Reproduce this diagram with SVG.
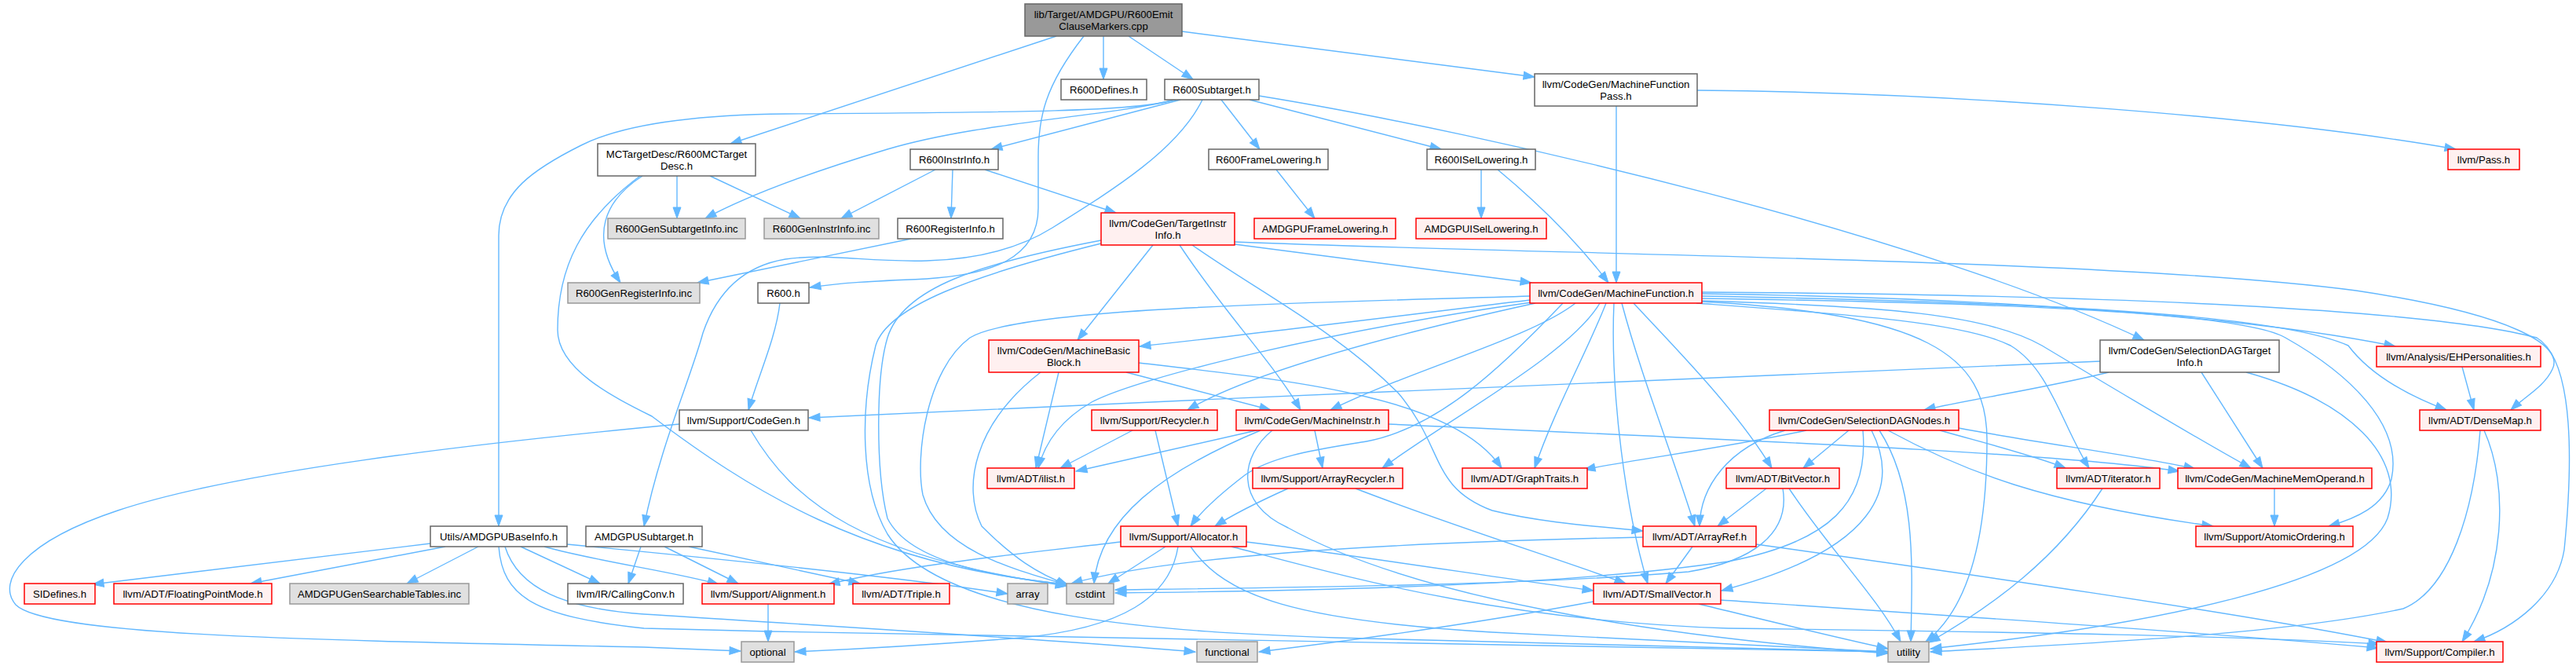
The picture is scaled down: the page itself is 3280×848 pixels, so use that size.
<svg xmlns="http://www.w3.org/2000/svg" width="3280" height="848" viewBox="0 0 3280 848">
<defs>
<style>
.e{fill:none;stroke:#63b8ff;stroke-width:1.4;marker-end:url(#a)}
rect.w{fill:#ffffff;stroke:#666666;stroke-width:1.5}
rect.r{fill:#fff0f0;stroke:#ff0000;stroke-width:1.5}
rect.g{fill:#e0e0e0;stroke:#999999;stroke-width:1.5}
rect.m{fill:#999999;stroke:#666666;stroke-width:1.5}
text{font-family:"Liberation Sans",Arial,Helvetica,sans-serif;font-size:13.2px;text-anchor:middle;fill:#000000}
</style>
<marker id="a" markerUnits="userSpaceOnUse" markerWidth="14" markerHeight="10" refX="14" refY="5" orient="auto" overflow="visible">
<path d="M0,0L14,5L0,10z" fill="#63b8ff" stroke="#63b8ff" stroke-width="1"/>
</marker>
</defs>
<rect x="0" y="0" width="3280" height="848" fill="#ffffff"/>
<g id="edges">
<path class="e" d="M1345,46 L930,183"/>
<path class="e" d="M1380,46 C1330,110 1322,150 1322,200 L1322,265 C1322,330 1260,350 1180,355 C1110,358 1070,360 1031,366"/>
<path class="e" d="M1405,46 L1405,101"/>
<path class="e" d="M1437,46 L1519,101"/>
<path class="e" d="M1505,40 L1954,98"/>
<path class="e" d="M1503,127 L1262,190"/>
<path class="e" d="M1497,127 C1400,150 1250,155 1130,190 C1030,220 950,250 898,278"/>
<path class="e" d="M1495,127 C1450,142 1300,143 1000,145 C900,146 800,155 740,185 C680,215 635,245 635,300 L635,670"/>
<path class="e" d="M1531,127 C1500,190 1420,240 1340,290 C1300,315 1250,330 1180,332 C1100,334 1060,322 1000,330 C940,340 910,380 895,424 C880,480 840,570 820,670"/>
<path class="e" d="M1555,127 L1604,190"/>
<path class="e" d="M1591,127 L1835,190"/>
<path class="e" d="M1603,122 C1900,170 2450,300 2730,433"/>
<path class="e" d="M862,224 L862,278"/>
<path class="e" d="M904,224 L1019,278"/>
<path class="e" d="M818,224 C770,255 750,300 790,360"/>
<path class="e" d="M815,224 C740,280 710,340 710,420 C710,470 780,505 830,530 C950,620 1100,720 1360,744"/>
<path class="e" d="M1191,216 L1071,278"/>
<path class="e" d="M1213,216 L1211,278"/>
<path class="e" d="M1254,216 L1421,271"/>
<path class="e" d="M1160,304 L888,360"/>
<path class="e" d="M1625,216 L1674,278"/>
<path class="e" d="M1886,216 L1886,278"/>
<path class="e" d="M1907,216 C1960,260 2010,310 2048,360"/>
<path class="e" d="M2058,135 L2058,360"/>
<path class="e" d="M2161,115 C2500,118 2900,150 3127,190"/>
<path class="e" d="M993,386 C988,430 965,480 953,522"/>
<path class="e" d="M1572,311 L1950,360"/>
<path class="e" d="M1572,308 C2000,325 2700,330 3000,370 C3200,400 3265,440 3250,470 C3240,492 3215,505 3197,522"/>
<path class="e" d="M1468,312 L1372,433"/>
<path class="e" d="M1502,312 C1560,400 1620,460 1656,522"/>
<path class="e" d="M1518,312 C1600,370 1700,420 1780,500 C1840,570 1820,620 1900,650 C1960,665 2030,670 2092,676"/>
<path class="e" d="M1402,306 C1250,335 1150,365 1130,430 C1115,480 1115,600 1130,660 C1160,720 1280,735 1362,745"/>
<path class="e" d="M1402,310 C1240,350 1130,390 1115,440 C1095,520 1095,620 1130,680 C1200,790 1500,805 1700,812 C1950,820 2200,826 2404,830"/>
<path class="e" d="M1948,382 C1800,400 1600,425 1451,441"/>
<path class="e" d="M1948,377 C1700,385 1300,390 1235,430 C1180,470 1165,580 1175,630 C1195,700 1290,725 1360,745"/>
<path class="e" d="M1950,385 C1700,420 1450,480 1390,512 C1350,535 1330,565 1322,596"/>
<path class="e" d="M1955,386 C1800,420 1600,470 1512,522"/>
<path class="e" d="M2006,386 C1950,430 1800,470 1694,522"/>
<path class="e" d="M2037,386 C2000,450 1850,530 1760,596"/>
<path class="e" d="M2045,386 C2020,450 1980,520 1954,596"/>
<path class="e" d="M2055,386 C2050,500 2070,650 2098,743"/>
<path class="e" d="M2065,386 C2090,480 2130,580 2158,670"/>
<path class="e" d="M2080,386 C2130,440 2210,520 2256,596"/>
<path class="e" d="M2160,386 C2350,400 2500,410 2560,440 C2610,470 2625,540 2660,596"/>
<path class="e" d="M2167,383 C2400,390 2530,400 2600,440 C2700,500 2800,560 2866,596"/>
<path class="e" d="M2167,380 C2500,385 2850,395 2910,430 C2990,475 3060,540 3045,610 C3035,645 3000,660 2965,670"/>
<path class="e" d="M2167,374 C2600,380 2900,410 3050,441"/>
<path class="e" d="M2167,377 C2600,385 2900,400 2990,440 C3020,480 3070,505 3115,522"/>
<path class="e" d="M2167,372 C2700,375 3100,395 3230,430 C3280,460 3275,600 3265,700 C3255,760 3200,800 3150,817"/>
<path class="e" d="M1990,386 C1910,470 1830,545 1740,562 C1680,572 1620,580 1585,605 C1555,628 1530,650 1516,670"/>
<path class="e" d="M2167,384 C2450,400 2530,450 2530,560 C2530,700 2500,780 2452,817"/>
<path class="e" d="M1434,474 L1618,522"/>
<path class="e" d="M1450,462 C1650,485 1850,505 1912,596"/>
<path class="e" d="M1348,474 L1319,596"/>
<path class="e" d="M1325,474 C1240,540 1225,620 1250,670 C1290,710 1320,730 1360,745"/>
<path class="e" d="M2674,460 C2300,475 1600,505 1030,532"/>
<path class="e" d="M2685,474 C2600,495 2500,510 2450,522"/>
<path class="e" d="M2803,474 L2881,596"/>
<path class="e" d="M2860,474 C2990,510 3065,580 3040,660 C3010,740 2750,795 2458,826"/>
<path class="e" d="M3135,467 L3150,522"/>
<path class="e" d="M3163,548 C3195,620 3190,730 3135,817"/>
<path class="e" d="M3158,548 C3150,650 3120,750 3060,775 C2900,810 2600,822 2458,830"/>
<path class="e" d="M2273,548 C2200,570 2165,620 2164,670"/>
<path class="e" d="M2300,548 C2200,570 2080,585 2017,598"/>
<path class="e" d="M2354,548 L2296,596"/>
<path class="e" d="M2372,548 C2380,640 2330,690 2200,715 C2000,745 1700,752 1420,755"/>
<path class="e" d="M2383,548 C2420,620 2390,700 2192,752"/>
<path class="e" d="M2393,548 C2440,620 2435,720 2433,817"/>
<path class="e" d="M2404,548 C2500,600 2600,640 2818,670"/>
<path class="e" d="M2470,548 C2530,565 2590,580 2630,596"/>
<path class="e" d="M2494,545 C2600,565 2720,580 2795,597"/>
<path class="e" d="M1600,548 L1370,600"/>
<path class="e" d="M1605,548 C1480,600 1400,660 1393,743"/>
<path class="e" d="M1674,548 L1684,596"/>
<path class="e" d="M1768,540 C2200,560 2600,575 2775,600"/>
<path class="e" d="M1620,548 C1580,580 1570,640 1640,672 C1800,760 2100,810 2404,832"/>
<path class="e" d="M1471,548 L1500,670"/>
<path class="e" d="M1442,548 L1350,596"/>
<path class="e" d="M1640,622 C1600,640 1570,655 1547,670"/>
<path class="e" d="M1726,622 C1850,670 1980,710 2070,743"/>
<path class="e" d="M2249,622 L2187,670"/>
<path class="e" d="M2270,622 C2280,680 2230,715 2150,728 C1950,745 1650,748 1420,751"/>
<path class="e" d="M2278,622 C2330,700 2390,760 2420,817"/>
<path class="e" d="M2677,622 C2620,710 2540,770 2456,818"/>
<path class="e" d="M2896,622 L2896,670"/>
<path class="e" d="M548,692 L118,744"/>
<path class="e" d="M567,696 L319,743"/>
<path class="e" d="M609,696 L518,743"/>
<path class="e" d="M663,696 L764,743"/>
<path class="e" d="M693,696 C760,715 860,728 915,744"/>
<path class="e" d="M722,693 C900,710 1150,735 1283,756"/>
<path class="e" d="M635,696 C640,760 680,785 820,800 C1400,815 2000,822 2404,830"/>
<path class="e" d="M643,696 C660,750 720,775 820,782 C1100,800 1350,815 1522,830"/>
<path class="e" d="M816,696 L800,743"/>
<path class="e" d="M846,696 L940,743"/>
<path class="e" d="M877,696 L1095,743"/>
<path class="e" d="M1427,690 C1300,705 1150,720 1055,744"/>
<path class="e" d="M1484,696 L1411,743"/>
<path class="e" d="M1500,696 C1490,760 1430,800 1300,812 C1200,820 1100,826 1012,830"/>
<path class="e" d="M1516,696 C1560,760 1650,790 1900,805 C2150,818 2300,824 2404,830"/>
<path class="e" d="M1587,690 C1750,710 1900,735 2029,752"/>
<path class="e" d="M1568,696 C1700,730 1900,790 2200,800 C2600,805 2850,810 3030,820"/>
<path class="e" d="M2092,684 C1800,690 1500,705 1364,743"/>
<path class="e" d="M2155,696 L2121,743"/>
<path class="e" d="M2236,693 C2500,730 2850,780 3040,818"/>
<path class="e" d="M2029,766 C1900,790 1750,812 1603,830"/>
<path class="e" d="M2163,769 C2250,790 2330,810 2404,826"/>
<path class="e" d="M2191,764 C2500,785 2800,805 3028,825"/>
<path class="e" d="M978,769 L978,817"/>
<path class="e" d="M865,540 C600,565 300,600 150,650 C30,690 -5,740 20,770 C60,810 400,815 820,824 L943,829"/>
<path class="e" d="M956,548 C1010,640 1100,710 1358,746"/>
</g>
<g id="n_main"><rect class="m" x="1305" y="5" width="200" height="41"/><text x="1405" y="22.5">lib/Target/AMDGPU/R600Emit</text><text x="1405" y="37.5">ClauseMarkers.cpp</text></g>
<g id="n_mctd"><rect class="w" x="761" y="183" width="201" height="41"/><text x="861.5" y="200.5">MCTargetDesc/R600MCTarget</text><text x="861.5" y="215.5">Desc.h</text></g>
<g id="n_defines"><rect class="w" x="1351" y="101" width="109" height="26"/><text x="1405.5" y="118.5">R600Defines.h</text></g>
<g id="n_subtarget"><rect class="w" x="1483" y="101" width="120" height="26"/><text x="1543" y="118.5">R600Subtarget.h</text></g>
<g id="n_mfp"><rect class="w" x="1954" y="94" width="207" height="41"/><text x="2057.5" y="111.5">llvm/CodeGen/MachineFunction</text><text x="2057.5" y="126.5">Pass.h</text></g>
<g id="n_instrinfo"><rect class="w" x="1159" y="190" width="112" height="26"/><text x="1215" y="207.5">R600InstrInfo.h</text></g>
<g id="n_framelow"><rect class="w" x="1539" y="190" width="152" height="26"/><text x="1615" y="207.5">R600FrameLowering.h</text></g>
<g id="n_isel"><rect class="w" x="1817" y="190" width="138" height="26"/><text x="1886" y="207.5">R600ISelLowering.h</text></g>
<g id="n_pass"><rect class="r" x="3117" y="190" width="91" height="26"/><text x="3162.5" y="207.5">llvm/Pass.h</text></g>
<g id="n_gensub"><rect class="g" x="774" y="278" width="175" height="26"/><text x="861.5" y="295.5">R600GenSubtargetInfo.inc</text></g>
<g id="n_geninstr"><rect class="g" x="973" y="278" width="146" height="26"/><text x="1046" y="295.5">R600GenInstrInfo.inc</text></g>
<g id="n_reginfo"><rect class="w" x="1143" y="278" width="134" height="26"/><text x="1210" y="295.5">R600RegisterInfo.h</text></g>
<g id="n_tii"><rect class="r" x="1402" y="271" width="170" height="41"/><text x="1487" y="288.5">llvm/CodeGen/TargetInstr</text><text x="1487" y="303.5">Info.h</text></g>
<g id="n_amdfl"><rect class="r" x="1597" y="278" width="180" height="26"/><text x="1687" y="295.5">AMDGPUFrameLowering.h</text></g>
<g id="n_amdisel"><rect class="r" x="1803" y="278" width="166" height="26"/><text x="1886" y="295.5">AMDGPUISelLowering.h</text></g>
<g id="n_genreg"><rect class="g" x="723" y="360" width="168" height="26"/><text x="807" y="377.5">R600GenRegisterInfo.inc</text></g>
<g id="n_r600"><rect class="w" x="965" y="360" width="65" height="26"/><text x="997.5" y="377.5">R600.h</text></g>
<g id="n_mf"><rect class="r" x="1948" y="360" width="219" height="26"/><text x="2057.5" y="377.5">llvm/CodeGen/MachineFunction.h</text></g>
<g id="n_mbb"><rect class="r" x="1259" y="433" width="191" height="41"/><text x="1354.5" y="450.5">llvm/CodeGen/MachineBasic</text><text x="1354.5" y="465.5">Block.h</text></g>
<g id="n_sdti"><rect class="w" x="2674" y="433" width="228" height="41"/><text x="2788" y="450.5">llvm/CodeGen/SelectionDAGTarget</text><text x="2788" y="465.5">Info.h</text></g>
<g id="n_ehp"><rect class="r" x="3026" y="441" width="209" height="26"/><text x="3130.5" y="458.5">llvm/Analysis/EHPersonalities.h</text></g>
<g id="n_codegen"><rect class="w" x="865" y="522" width="164" height="26"/><text x="947" y="539.5">llvm/Support/CodeGen.h</text></g>
<g id="n_recycler"><rect class="r" x="1390" y="522" width="160" height="26"/><text x="1470" y="539.5">llvm/Support/Recycler.h</text></g>
<g id="n_mi"><rect class="r" x="1574" y="522" width="194" height="26"/><text x="1671" y="539.5">llvm/CodeGen/MachineInstr.h</text></g>
<g id="n_sdn"><rect class="r" x="2253" y="522" width="241" height="26"/><text x="2373.5" y="539.5">llvm/CodeGen/SelectionDAGNodes.h</text></g>
<g id="n_densemap"><rect class="r" x="3081" y="522" width="154" height="26"/><text x="3158" y="539.5">llvm/ADT/DenseMap.h</text></g>
<g id="n_ilist"><rect class="r" x="1257" y="596" width="111" height="26"/><text x="1312.5" y="613.5">llvm/ADT/ilist.h</text></g>
<g id="n_arrayrec"><rect class="r" x="1595" y="596" width="191" height="26"/><text x="1690.5" y="613.5">llvm/Support/ArrayRecycler.h</text></g>
<g id="n_graphtraits"><rect class="r" x="1862" y="596" width="159" height="26"/><text x="1941.5" y="613.5">llvm/ADT/GraphTraits.h</text></g>
<g id="n_bitvector"><rect class="r" x="2198" y="596" width="144" height="26"/><text x="2270" y="613.5">llvm/ADT/BitVector.h</text></g>
<g id="n_iterator"><rect class="r" x="2619" y="596" width="131" height="26"/><text x="2684.5" y="613.5">llvm/ADT/iterator.h</text></g>
<g id="n_mmo"><rect class="r" x="2773" y="596" width="247" height="26"/><text x="2896.5" y="613.5">llvm/CodeGen/MachineMemOperand.h</text></g>
<g id="n_utils"><rect class="w" x="548" y="670" width="174" height="26"/><text x="635" y="687.5">Utils/AMDGPUBaseInfo.h</text></g>
<g id="n_amdst"><rect class="w" x="746" y="670" width="148" height="26"/><text x="820" y="687.5">AMDGPUSubtarget.h</text></g>
<g id="n_allocator"><rect class="r" x="1427" y="670" width="160" height="26"/><text x="1507" y="687.5">llvm/Support/Allocator.h</text></g>
<g id="n_arrayref"><rect class="r" x="2092" y="670" width="144" height="26"/><text x="2164" y="687.5">llvm/ADT/ArrayRef.h</text></g>
<g id="n_atomic"><rect class="r" x="2796" y="670" width="200" height="26"/><text x="2896" y="687.5">llvm/Support/AtomicOrdering.h</text></g>
<g id="n_sidefines"><rect class="r" x="31" y="743" width="90" height="26"/><text x="76" y="760.5">SIDefines.h</text></g>
<g id="n_fpmode"><rect class="r" x="145" y="743" width="201" height="26"/><text x="245.5" y="760.5">llvm/ADT/FloatingPointMode.h</text></g>
<g id="n_searchable"><rect class="g" x="369" y="743" width="228" height="26"/><text x="483" y="760.5">AMDGPUGenSearchableTables.inc</text></g>
<g id="n_callingconv"><rect class="w" x="723" y="743" width="147" height="26"/><text x="796.5" y="760.5">llvm/IR/CallingConv.h</text></g>
<g id="n_alignment"><rect class="r" x="894" y="743" width="168" height="26"/><text x="978" y="760.5">llvm/Support/Alignment.h</text></g>
<g id="n_triple"><rect class="r" x="1086" y="743" width="123" height="26"/><text x="1147.5" y="760.5">llvm/ADT/Triple.h</text></g>
<g id="n_array"><rect class="g" x="1283" y="743" width="51" height="26"/><text x="1308.5" y="760.5">array</text></g>
<g id="n_cstdint"><rect class="g" x="1358" y="743" width="60" height="26"/><text x="1388" y="760.5">cstdint</text></g>
<g id="n_smallvector"><rect class="r" x="2029" y="743" width="162" height="26"/><text x="2110" y="760.5">llvm/ADT/SmallVector.h</text></g>
<g id="n_optional"><rect class="g" x="944" y="817" width="67" height="26"/><text x="977.5" y="834.5">optional</text></g>
<g id="n_functional"><rect class="g" x="1524" y="817" width="77" height="26"/><text x="1562.5" y="834.5">functional</text></g>
<g id="n_utility"><rect class="g" x="2404" y="817" width="52" height="26"/><text x="2430" y="834.5">utility</text></g>
<g id="n_compiler"><rect class="r" x="3026" y="817" width="161" height="26"/><text x="3106.5" y="834.5">llvm/Support/Compiler.h</text></g>
</svg>
